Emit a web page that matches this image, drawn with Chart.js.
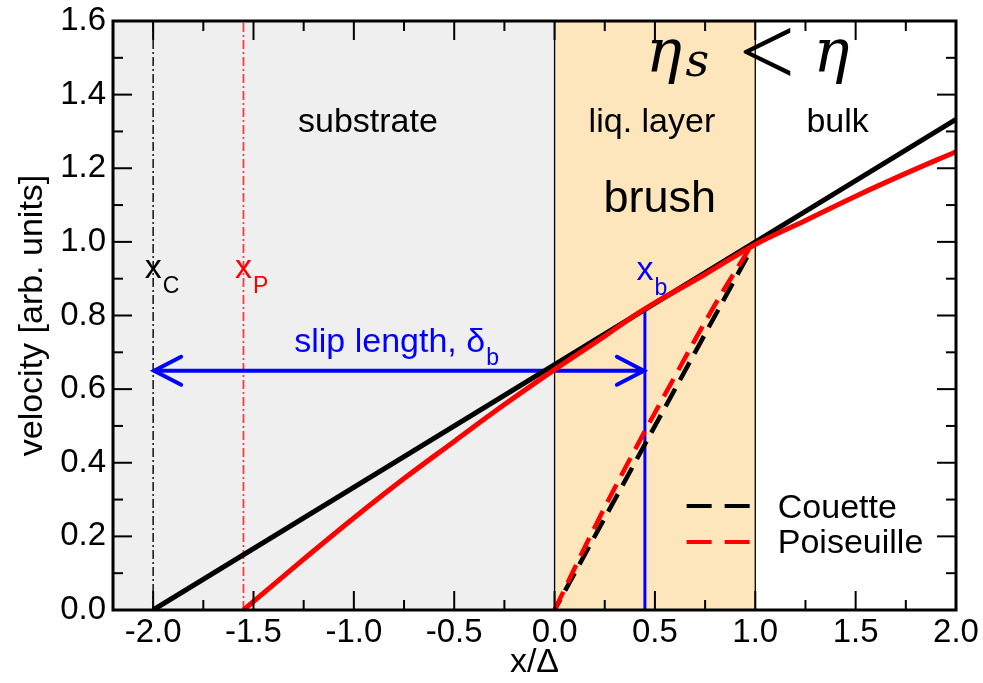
<!DOCTYPE html>
<html>
<head>
<meta charset="utf-8">
<script src="https://cdn.jsdelivr.net/npm/chart.js@4.4.1/dist/chart.umd.min.js"></script>
<style>
  html, body { margin: 0; padding: 0; background: #fff; }
  #wrap { width: 983px; height: 683px; }
</style>
</head>
<body>
<div id="wrap"><canvas id="chart"></canvas></div>
<script>
// velocity profiles: substrate / brush (liquid layer) / bulk
const xTicks = [-2.0, -1.5, -1.0, -0.5, 0.0, 0.5, 1.0, 1.5, 2.0];
const yTicks = [0.0, 0.2, 0.4, 0.6, 0.8, 1.0, 1.2, 1.4, 1.6];

const regionEdges = [-2.2, 0.0, 1.0, 2.0];
const regionNames = ['substrate', 'liq. layer', 'bulk'];
const regionColors = ['#efefef', '#fde5bc', '#ffffff'];

// Couette, extrapolated straight line
const couetteX = [-2.0, 2.0];
const couetteV = [0.0, 1.333];

// Poiseuille, extrapolated profile
const poisX = [-1.55, -1.25, -1.0, -0.75, -0.5, -0.25, 0.0, 0.25, 0.45, 0.75, 1.0, 1.25, 1.5, 1.75, 2.0];
const poisV = [0.0, 0.138, 0.25, 0.357, 0.458, 0.558, 0.653, 0.744, 0.818, 0.912, 0.993, 1.058, 1.124, 1.186, 1.245];

// profiles inside the brush
const couetteBrushX = [0.0, 0.98];
const couetteBrushV = [0.0, 0.98];
const poisBrushX = [0.0, 0.2, 0.4, 0.6, 0.8, 0.98];
const poisBrushV = [0.0, 0.225, 0.435, 0.635, 0.83, 0.99];

const xC = -2.0;
const xP = -1.55;
const xB = 0.45;
const vB = 0.82;
const slipV = 0.65;

const SANS = '"Liberation Sans", Arial, Helvetica, sans-serif';
const SERIF = '"DejaVu Serif", serif';

const pts = (xs, ys) => xs.map((x, i) => ({ x: x, y: ys[i] }));

function line(data, color, width, dash, extra) {
  return Object.assign({
    data: data,
    showLine: true,
    borderColor: color,
    backgroundColor: color,
    borderWidth: width,
    borderDash: dash || [],
    pointRadius: 0,
    pointHoverRadius: 0,
    fill: false
  }, extra || {});
}

const datasets = [
  line(pts(poisX, poisV), '#ff0000', 5, null, { tension: 0.4 }),
  line(pts(couetteX, couetteV), '#000000', 5),
  line(pts(poisBrushX, poisBrushV), '#ff0000', 4.5, [20, 10], { label: 'Poiseuille', tension: 0.4, legend: true }),
  line(pts(couetteBrushX, couetteBrushV), '#000000', 4.5, [20, 10], { label: 'Couette', borderDashOffset: 8, legend: true }),
  line([{ x: xB, y: 0 }, { x: xB, y: vB }], '#0000ff', 3),
  line([{ x: xC, y: slipV }, { x: xB, y: slipV }], '#0000ff', 4),
  line([{ x: xP, y: 0 }, { x: xP, y: 1.6 }], 'rgba(255,0,0,0.75)', 1.8, [9, 3, 2, 3]),
  line([{ x: xC, y: 0 }, { x: xC, y: 1.6 }], '#000000', 1.4, [9, 3, 2, 3])
];

function drawSub(ctx, main, sub, px, py, size, subSize, drop, color, align) {
  ctx.fillStyle = color;
  ctx.font = size + 'px ' + SANS;
  ctx.textBaseline = 'alphabetic';
  const w = ctx.measureText(main).width;
  const left = align === 'center' ? px - w / 2 : px;
  ctx.textAlign = 'left';
  ctx.fillText(main, left, py);
  ctx.font = subSize + 'px ' + SANS;
  ctx.fillText(sub, left + w + 1, py + drop);
}

const decor = {
  id: 'decor',
  beforeDatasetsDraw(chart) {
    const { ctx, chartArea: a, scales: { x, y } } = chart;
    ctx.save();
    for (let i = 0; i < regionColors.length; i++) {
      const l = x.getPixelForValue(regionEdges[i]);
      const r = x.getPixelForValue(regionEdges[i + 1]);
      ctx.fillStyle = regionColors[i];
      ctx.fillRect(l, a.top, r - l, a.bottom - a.top);
    }
    ctx.strokeStyle = '#000';
    ctx.lineWidth = 1.3;
    regionEdges.slice(1, -1).forEach(e => {
      const p = x.getPixelForValue(e);
      ctx.beginPath();
      ctx.moveTo(p, a.top);
      ctx.lineTo(p, a.bottom);
      ctx.stroke();
    });
    ctx.restore();
  },
  afterDatasetsDraw(chart) {
    const { ctx, chartArea: a, scales: { x, y } } = chart;
    const P = (xv, yv) => [x.getPixelForValue(xv), y.getPixelForValue(yv)];
    ctx.save();

    // arrow heads of the slip length
    ctx.strokeStyle = '#0000ff';
    ctx.lineWidth = 4;
    ctx.lineCap = 'round';
    const [lx, ay] = P(xC, slipV);
    const [rx] = P(xB, slipV);
    ctx.beginPath();
    ctx.moveTo(lx + 28, ay - 14); ctx.lineTo(lx + 1, ay); ctx.lineTo(lx + 28, ay + 14);
    ctx.moveTo(rx - 28, ay - 14); ctx.lineTo(rx - 1, ay); ctx.lineTo(rx - 28, ay + 14);
    ctx.stroke();
    ctx.lineCap = 'butt';

    // frame and inward ticks on all four sides
    ctx.strokeStyle = '#000';
    ctx.lineWidth = 2;
    const tick = (x0, y0, dx, dy) => {
      ctx.beginPath(); ctx.moveTo(x0, y0); ctx.lineTo(x0 + dx, y0 + dy); ctx.stroke();
    };
    x.ticks.forEach(t => {
      const p = x.getPixelForValue(t.value);
      tick(p, a.bottom, 0, -19); tick(p, a.top, 0, 19);
      if (t.value + 0.25 < x.max) {
        const m = x.getPixelForValue(t.value + 0.25);
        tick(m, a.bottom, 0, -10); tick(m, a.top, 0, 10);
      }
    });
    y.ticks.forEach(t => {
      const p = y.getPixelForValue(t.value);
      tick(a.left, p, 19, 0); tick(a.right, p, -19, 0);
      if (t.value + 0.1 < y.max) {
        const m = y.getPixelForValue(t.value + 0.1);
        tick(a.left, m, 10, 0); tick(a.right, m, -10, 0);
      }
    });
    ctx.lineWidth = 3;
    ctx.strokeRect(a.left, a.top, a.right - a.left, a.bottom - a.top);

    // region names
    ctx.fillStyle = '#000';
    ctx.textAlign = 'center';
    ctx.textBaseline = 'alphabetic';
    ctx.font = '34px ' + SANS;
    const nameX = [-0.93, 0.485, 1.41];
    regionNames.forEach((n, i) => {
      const [px, py] = P(nameX[i], 1.299);
      ctx.fillText(n, px, py);
    });
    ctx.font = '45px ' + SANS;
    let [bx, by] = P(0.524, 1.081);
    ctx.fillText('brush', bx, by);

    // viscosity relation
    ctx.textAlign = 'left';
    ctx.font = 'italic 60px ' + SERIF;
    let [ex, ey] = P(0.455, 1.4615);
    ctx.fillText('\u03b7', ex, ey);
    ctx.font = 'italic 46px ' + SERIF;
    [ex, ey] = P(0.652, 1.45);
    ctx.fillText('s', ex, ey);
    ctx.font = '100px "Liberation Serif", serif';
    [ex, ey] = P(0.918, 1.425);
    ctx.fillText('<', ex, ey);
    ctx.font = 'italic 60px ' + SERIF;
    [ex, ey] = P(1.29, 1.4615);
    ctx.fillText('\u03b7', ex, ey);

    // position labels
    let [tx, ty] = P(xC, 0.902);
    drawSub(ctx, 'x', 'C', tx, ty, 34, 23, 15, '#000', 'center');
    [tx, ty] = P(xP, 0.902);
    drawSub(ctx, 'x', 'P', tx, ty, 34, 23, 15, '#ff0000', 'center');
    [tx, ty] = P(xB, 0.897);
    drawSub(ctx, 'x', 'b', tx, ty, 34, 23, 15, '#0000ff', 'center');
    [tx, ty] = P(-1.297, 0.701);
    drawSub(ctx, 'slip length, \u03b4', 'b', tx, ty, 34, 23, 13, '#0000ff', 'left');

    // legend for the brush profiles
    const legendRows = [[0.2825, 0.25], [0.185, 0.155]];
    const items = chart.data.datasets.filter(d => d.legend).reverse();
    items.forEach((d, i) => {
      const [x0, ly] = P(0.658, legendRows[i][0]);
      const [x1] = P(0.973, legendRows[i][0]);
      ctx.strokeStyle = d.borderColor;
      ctx.lineWidth = 4;
      ctx.setLineDash([25, 13]);
      ctx.beginPath(); ctx.moveTo(x0, ly); ctx.lineTo(x1, ly); ctx.stroke();
      ctx.setLineDash([]);
      const [lx2, ty2] = P(1.112, legendRows[i][1]);
      ctx.fillStyle = '#000';
      ctx.font = '34px ' + SANS;
      ctx.fillText(d.label, lx2, ty2);
    });
    ctx.restore();
  }
};

new Chart(document.getElementById('chart'), {
  type: 'scatter',
  data: { datasets: datasets },
  options: {
    responsive: true,
    maintainAspectRatio: false,
    animation: false,
    events: [],
    layout: { padding: { top: 21, right: 27, left: 0, bottom: 0 } },
    plugins: { legend: { display: false }, tooltip: { enabled: false } },
    scales: {
      x: {
        type: 'linear',
        min: -2.2,
        max: 2.0,
        grid: { display: false, drawTicks: false },
        border: { display: false },
        afterBuildTicks: s => { s.ticks = xTicks.map(v => ({ value: v })); },
        afterFit: s => { s.height = 73; s.paddingLeft = 0; s.paddingRight = 0; },
        ticks: {
          color: '#000',
          font: { family: SANS, size: 33 },
          padding: 3,
          maxRotation: 0,
          autoSkip: false,
          callback: v => v.toFixed(1)
        },
        title: {
          display: true,
          text: 'x/\u0394',
          color: '#000',
          font: { family: SANS, size: 34 },
          padding: { top: 0, bottom: 0 }
        }
      },
      y: {
        type: 'linear',
        min: 0,
        max: 1.6,
        grid: { display: false, drawTicks: false },
        border: { display: false },
        afterBuildTicks: s => { s.ticks = yTicks.map(v => ({ value: v })); },
        afterFit: s => { s.width = 113; s.paddingTop = 0; s.paddingBottom = 0; },
        ticks: {
          color: '#000',
          font: { family: SANS, size: 33 },
          padding: 7,
          autoSkip: false,
          callback: v => v.toFixed(1)
        },
        title: {
          display: true,
          text: 'velocity [arb. units]',
          color: '#000',
          font: { family: SANS, size: 34 },
          padding: { top: 12, bottom: 0 }
        }
      }
    }
  },
  plugins: [decor]
});
</script>
</body>
</html>
